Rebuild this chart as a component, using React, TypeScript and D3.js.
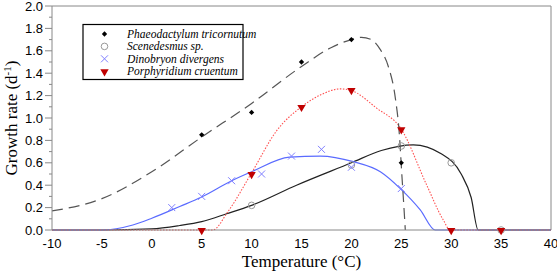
import React from "react";
import * as d3 from "d3";

const W = 557, H = 272;
const margin = { left: 52, right: 6, top: 6, bottom: 42 };

const xTicks = [-10, -5, 0, 5, 10, 15, 20, 25, 30, 35, 40];
const yTicks = [0, 0.2, 0.4, 0.6, 0.8, 1.0, 1.2, 1.4, 1.6, 1.8, 2.0];

// Observed data
const phaeoT = [5, 10, 15, 20, 25];
const phaeoR = [0.85, 1.05, 1.5, 1.7, 0.6];
const scenT = [10, 20, 25, 30, 35];
const scenR = [0.22, 0.58, 0.75, 0.6, 0];
const dinoT = [2, 5, 8, 11, 14, 17, 20, 25];
const dinoR = [0.2, 0.3, 0.44, 0.5, 0.66, 0.72, 0.56, 0.37];
const porT = [5, 10, 15, 20, 25, 30, 35];
const porR = [0, 0.5, 1.1, 1.25, 0.9, 0, 0];

// Fitted curves
const phaeoFitT = [-10, -5, 0, 5, 10, 15, 18, 20, 21, 22, 22.9, 23.7, 24.4, 24.8, 25.05, 25.3, 25.4];
const phaeoFitR = [0.17, 0.28, 0.52, 0.83, 1.13, 1.46, 1.63, 1.70, 1.72, 1.70, 1.61, 1.46, 1.18, 0.86, 0.5, 0.15, 0];
const scenFitT = [-10, -5, 0, 2.8, 5, 7.5, 10, 14.5, 20, 23, 26.2, 29, 31, 32, 32.7, 40];
const scenFitR = [0, 0, 0.01, 0.04, 0.075, 0.145, 0.22, 0.4, 0.6, 0.71, 0.76, 0.68, 0.5, 0.29, 0, 0];
const dinoFitT = [-10, -5, -1.9, 0, 2.8, 5, 8, 10, 13.8, 16.9, 20.2, 22.9, 24.9, 26.9, 28.4, 40];
const dinoFitR = [0, 0, 0.045, 0.105, 0.21, 0.295, 0.44, 0.52, 0.65, 0.66, 0.61, 0.52, 0.37, 0.18, 0, 0];
const porFitT = [-10, 6.1, 7.6, 10, 12.5, 15, 17, 18.9, 20, 22.5, 25, 27.5, 29.2, 29.9, 40];
const porFitR = [0, 0, 0.16, 0.51, 0.885, 1.1, 1.21, 1.26, 1.245, 1.09, 0.9, 0.41, 0.09, 0, 0];

const legendNames = ["Phaeodactylum tricornutum", "Scenedesmus sp.", "Dinobryon divergens", "Porphyridium cruentum"];

const SERIF = "'Liberation Serif', 'Times New Roman', serif";
const SANS = "'Liberation Sans', Arial, sans-serif";

export default function App() {
  const x = d3.scaleLinear().domain([-10, 40]).range([margin.left, W - margin.right]);
  const y = d3.scaleLinear().domain([0, 2]).range([H - margin.bottom, margin.top]);
  const line = d3.line<[number, number]>().x(d => x(d[0])).y(d => y(d[1])).curve(d3.curveMonotoneX);
  const pts = (t: number[], r: number[]) => t.map((v, i) => [v, r[i]] as [number, number]);
  const minorY = d3.range(0, 2.0001, 0.1);
  const diamond = d3.symbol().type(d3.symbolSquare).size(14)()!;
  const tri = d3.symbol().type(d3.symbolTriangle).size(30)()!;

  const marker = (k: number, cx: number, cy: number, key: string) => {
    if (k === 0) return <path key={key} d={diamond} transform={`translate(${cx},${cy}) rotate(45)`} fill="#000" />;
    if (k === 1) return <circle key={key} cx={cx} cy={cy} r={3.3} fill="none" stroke="#999" strokeWidth={1} />;
    if (k === 2) return <path key={key} d="M-3.5,-3.5L3.5,3.5M-3.5,3.5L3.5,-3.5" transform={`translate(${cx},${cy})`} stroke="#8080ff" strokeWidth={1} fill="none" />;
    return <path key={key} d={tri} transform={`translate(${cx},${cy + 0.5}) rotate(180)`} fill="#c00000" />;
  };

  const x0 = margin.left, x1 = W - margin.right, y0 = H - margin.bottom, y1 = margin.top;

  return (
    <svg width={W} height={H} style={{ position: "absolute", left: 0, top: 0 }}>
      <rect x={0} y={0} width={W} height={H} fill="#fff" />
      {/* frame */}
      <line x1={x0} x2={x1} y1={y1} y2={y1} stroke="#888" />
      <line x1={x1} x2={x1} y1={y1} y2={y0} stroke="#888" />
      {/* curves */}
      <path d={line(pts(scenFitT, scenFitR))!} fill="none" stroke="#222" strokeWidth={1.2} />
      <path d={line(pts(dinoFitT, dinoFitR))!} fill="none" stroke="#5a6bff" strokeWidth={1.2} />
      <path d={line(pts(porFitT, porFitR))!} fill="none" stroke="#ff5050" strokeWidth={1.1} strokeDasharray="1.5,1.5" />
      <path d={line(pts(phaeoFitT, phaeoFitR))!} fill="none" stroke="#555" strokeWidth={1.2} strokeDasharray="11,6" />
      {/* axes */}
      <line x1={x0} x2={x1} y1={y0} y2={y0} stroke="#888" />
      <line x1={x0} x2={x0} y1={y0} y2={y1} stroke="#888" />
      {minorY.map((v, i) => (
        <line key={"m" + i} x1={x0 - (i % 2 === 0 ? 7 : 3)} x2={x0} y1={y(v)} y2={y(v)} stroke="#888" />
      ))}
      {yTicks.map(v => (
        <text key={"yt" + v} x={x0 - 9} y={y(v)} dy="0.35em" textAnchor="end" fontFamily={SANS} fontSize={13} fill="#000">{v.toFixed(1)}</text>
      ))}
      {xTicks.map(v => (
        <text key={"xt" + v} x={x(v)} y={y0 + 18} textAnchor="middle" fontFamily={SANS} fontSize={13} fill="#000">{v}</text>
      ))}
      {/* markers */}
      {scenT.map((t, i) => marker(1, x(t), y(scenR[i]), "s" + i))}
      {dinoT.map((t, i) => marker(2, x(t), y(dinoR[i]), "d" + i))}
      {porT.map((t, i) => marker(3, x(t), y(porR[i]), "p" + i))}
      {phaeoT.map((t, i) => marker(0, x(t), y(phaeoR[i]), "ph" + i))}
      {/* titles */}
      <text x={(x0 + x1) / 2} y={267} textAnchor="middle" fontFamily={SERIF} fontSize={17} fill="#000">Temperature (°C)</text>
      <text transform={`translate(17,${(y0 + y1) / 2}) rotate(-90)`} textAnchor="middle" fontFamily={SERIF} fontSize={17} fill="#000">
        Growth rate (d<tspan dy={-6} fontSize={11}>-1</tspan><tspan dy={6}>)</tspan>
      </text>
      {/* legend */}
      <rect x={83} y={24.5} width={160} height={55} fill="#fff" stroke="#000" strokeWidth={1.2} />
      {legendNames.map((n, i) => (
        <g key={"lg" + i}>
          {marker(i, 104.5, 34 + i * 12.4, "lm" + i)}
          <text x={127} y={34 + i * 12.4} dy="0.35em" fontFamily={SERIF} fontStyle="italic" fontSize={11.5} fill="#000">{n}</text>
        </g>
      ))}
    </svg>
  );
}
